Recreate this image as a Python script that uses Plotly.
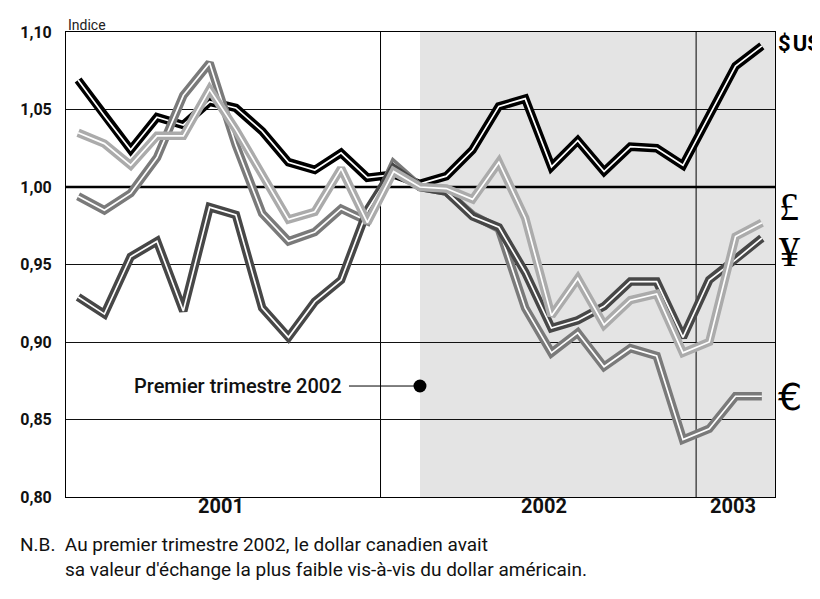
import plotly.graph_objects as go

# ---------------- data (monthly index, Jan 2001 .. Mar 2003) ----------------
months = list(range(27))
usd = [1.069, 1.046, 1.024, 1.045, 1.040, 1.055, 1.051, 1.036, 1.016, 1.011,
       1.022, 1.006, 1.008, 1.002, 1.007, 1.024, 1.052, 1.057, 1.013, 1.030,
       1.010, 1.026, 1.025, 1.014, 1.046, 1.078, 1.091]
gbp = [1.035, 1.028, 1.014, 1.033, 1.033, 1.063, 1.037, 1.008, 0.979, 0.984,
       1.012, 0.977, 1.010, 1.000, 0.999, 0.992, 1.016, 0.980, 0.917, 0.941,
       0.911, 0.927, 0.931, 0.893, 0.900, 0.968, 0.977]
eur = [0.994, 0.985, 0.996, 1.019, 1.059, 1.080, 1.027, 0.983, 0.965, 0.971,
       0.986, 0.978, 1.015, 1.000, 0.997, 0.982, 0.973, 0.922, 0.893, 0.906,
       0.884, 0.896, 0.891, 0.837, 0.844, 0.865, 0.865]
jpy = [0.929, 0.918, 0.955, 0.965, 0.920, 0.987, 0.982, 0.922, 0.903, 0.926,
       0.940, 0.985, 1.012, 1.000, 0.997, 0.981, 0.974, 0.945, 0.909, 0.914,
       0.923, 0.939, 0.939, 0.903, 0.940, 0.953, 0.967]

y_ticks = [0.80, 0.85, 0.90, 0.95, 1.00, 1.05, 1.10]
y_ticktext = ["0,80", "0,85", "0,90", "0,95", "1,00", "1,05", "1,10"]
year_labels = ["2001", "2002", "2003"]
year_pos = [5.45, 17.7, 24.9]
year_bounds = [11.5, 23.5]
shade_start = 13
marker_x = 13
marker_y = 0.8716
marker_text = "Premier trimestre 2002"

series = [
    ("$ US", usd, "#000000"),
    ("€", eur, "#7a7a7a"),
    ("¥", jpy, "#474747"),
    ("£", gbp, "#ababab"),
]

SANS = "Roboto, Liberation Sans, sans-serif"
SERIF = "Liberation Serif, DejaVu Serif, serif"

fig = go.Figure()

for name, vals, col in series:
    fig.add_trace(go.Scatter(x=months, y=vals, mode="lines", name=name,
                             line=dict(color=col, width=8.5), hoverinfo="skip"))
    fig.add_trace(go.Scatter(x=months, y=vals, mode="lines", name=name,
                             line=dict(color="white", width=1.7), hoverinfo="skip"))

fig.add_trace(go.Scatter(x=[marker_x], y=[marker_y], mode="markers",
                         marker=dict(color="black", size=13), hoverinfo="skip"))

XMIN, XMAX = -0.46, 26.5

shapes = [
    dict(type="rect", xref="x", yref="paper", x0=shade_start, x1=XMAX, y0=0, y1=1,
         fillcolor="#e4e4e4", line=dict(width=0), layer="below"),
    dict(type="line", xref="x", yref="y", x0=XMIN, x1=XMAX, y0=1.0, y1=1.0,
         line=dict(color="black", width=2.4), layer="between"),
    dict(type="line", xref="x", yref="y", x0=10.3, x1=marker_x, y0=marker_y, y1=marker_y,
         line=dict(color="black", width=1), layer="between"),
]
for b in year_bounds:
    shapes.append(dict(type="line", xref="x", yref="paper", x0=b, x1=b, y0=0, y1=1,
                       line=dict(color="black", width=1), layer="between"))

ann = []
for yl, xp in zip(year_labels, year_pos):
    ann.append(dict(text=yl, x=xp, xref="x", y=-0.049, yref="paper",
                    showarrow=False,
                    font=dict(family=SANS, size=20, color="#111", weight="bold")))

ann.append(dict(text="Indice", x=0, xref="paper", y=1.0, yref="paper", xanchor="left",
                yanchor="bottom", yshift=-3, showarrow=False,
                font=dict(family=SANS, size=14, color="#222")))

ann.append(dict(text=marker_text, x=10.12, xref="x", y=marker_y, yref="y",
                xanchor="right", showarrow=False,
                font=dict(family=SANS, size=20, color="#111", weight=500)))

# right-hand labels
ann.append(dict(text="$\u200aUS", x=1, xref="paper", y=1.0925, yref="y", xanchor="left",
                xshift=1, showarrow=False,
                font=dict(family=SANS, size=22, color="black", weight="bold")))
ann.append(dict(text="£", x=1, xref="paper", y=0.9875, yref="y", xanchor="left",
                xshift=2, showarrow=False, font=dict(family=SERIF, size=40, color="black")))
ann.append(dict(text="¥", x=1, xref="paper", y=0.958, yref="y", xanchor="left",
                xshift=2, showarrow=False, font=dict(family=SERIF, size=42, color="black")))
ann.append(dict(text="€", x=1, xref="paper", y=0.8645, yref="y", xanchor="left",
                xshift=1, showarrow=False,
                font=dict(family="DejaVu Sans, sans-serif", size=38, color="black")))

# footnote
ann.append(dict(text="N.B.  Au premier trimestre 2002, le dollar canadien avait",
                x=-0.0677, xref="paper", y=-0.131, yref="paper", xanchor="left",
                showarrow=False, font=dict(family=SANS, size=19, color="#111")))
ann.append(dict(text="sa valeur d'échange la plus faible vis-à-vis du dollar américain.",
                x=-0.004, xref="paper", y=-0.185, yref="paper", xanchor="left",
                showarrow=False, font=dict(family=SANS, size=19, color="#111")))

# the page adds an 8px body margin; margins compensate so the plot box sits at 66..775 x 32..497
fig.update_layout(
    width=820, height=599,
    margin=dict(l=58, r=53, t=24, b=110),
    paper_bgcolor="white", plot_bgcolor="white",
    showlegend=False, hovermode=False,
    shapes=shapes, annotations=ann,
    xaxis=dict(range=[XMIN, XMAX], showgrid=False, zeroline=False, showticklabels=False,
               showline=True, mirror=True, linecolor="black", linewidth=1, ticks=""),
    yaxis=dict(range=[0.80, 1.10], tickvals=y_ticks, ticktext=y_ticktext,
               showgrid=True, gridcolor="#111", gridwidth=1, zeroline=False,
               showline=True, mirror=True, linecolor="black", linewidth=1, ticks="",
               ticklabelstandoff=10,
               tickfont=dict(family=SANS, size=16, color="#111", weight="bold")),
)

fig.write_html("out.html")
